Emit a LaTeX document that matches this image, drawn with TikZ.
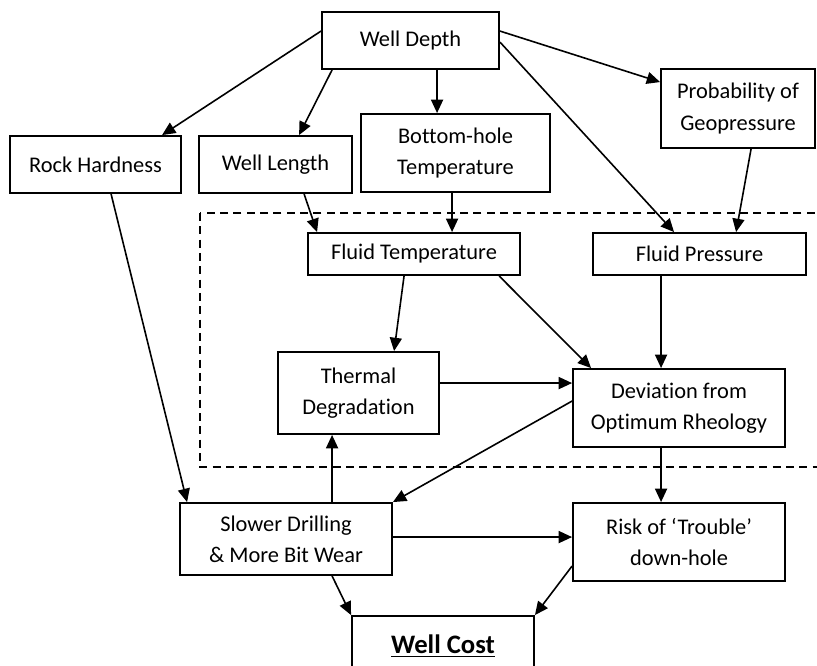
\documentclass[tikz,border=0pt]{standalone}
\usepackage{fontspec}
\setmainfont[Ligatures=NoCommon]{Carlito}
\usetikzlibrary{arrows.meta,calc}

\begin{document}
\begin{tikzpicture}[
            x=0.75pt, y=-0.75pt,
            box/.style={draw, line width=1.4pt, align=center, inner sep=0pt,
                font=\fontsize{16.8}{23.5}\selectfont},
            arr/.style={line width=1.2pt, -{Triangle[length=10pt,width=9pt]}},
            frame/.style={line width=1.3pt, dash pattern=on 6pt off 4pt},
        ]
        \useasboundingbox (0,0) rectangle (817,666);
        \clip (0,0) rectangle (817,666);

        % dashed region round the fluid properties
        \draw[frame] (200,213) rectangle (840,467);

        \node[box, minimum width=132.75pt, minimum height=42.75pt] (depth) at (410.5,40.5) {Well Depth};
        \node[box, minimum width=128.25pt, minimum height=42.75pt] (rock) at (95.5,164.5) {Rock Hardness};
        \node[box, minimum width=114.75pt, minimum height=42.75pt] (length) at (275.5,164.5) {Well Length};
        \node[box, minimum width=141.75pt, minimum height=58.5pt] (bottom) at (455.5,153) {Bottom-hole\\Temperature};
        \node[box, minimum width=115.5pt, minimum height=59.25pt] (prob) at (738,108.5) {Probability of\\Geopressure};
        \node[box, minimum width=159pt, minimum height=31.5pt] (ft) at (414,254) {Fluid Temperature};
        \node[box, minimum width=159.75pt, minimum height=31.5pt] (fp) at (699.5,254) {Fluid Pressure};
        \node[box, minimum width=120.75pt, minimum height=61.5pt] (thermal) at (358.5,393) {Thermal\\Degradation};
        \node[box, minimum width=159pt, minimum height=58.5pt] (dev) at (679,408) {Deviation from\\Optimum Rheology};
        \node[box, minimum width=159pt, minimum height=54pt] (slower) at (286,539) {Slower Drilling\\\& More Bit Wear};
        \node[box, minimum width=159pt, minimum height=58.5pt] (risk) at (679,542) {Risk of `Trouble'\\down-hole};
        \node[box, minimum width=136.5pt, minimum height=45pt,
            font=\fontsize{20}{24}\selectfont\bfseries] (cost) at (443,646) {\underline{Well Cost}};

        % from well depth
        \draw[arr] ($(depth.north west)+(0,20)$) -- ($(rock.north west)+(153,0)$);
        \draw[arr] ($(depth.south west)+(11,0)$) -- ($(length.north west)+(101,0)$);
        \draw[arr] ($(depth.south west)+(116,0)$) coordinate (a) -- (a |- bottom.north);
        \draw[arr] ($(depth.north east)+(0,20)$) -- ($(prob.north west)+(0,14)$);
        \draw[arr] ($(depth.north east)+(0,31)$) -- ($(fp.north west)+(82,0)$);

        \draw[arr] ($(prob.south west)+(91,0)$) -- ($(fp.north west)+(144,0)$);
        \draw[arr] ($(length.south west)+(106,0)$) -- ($(ft.north west)+(10,0)$);
        \draw[arr] ($(bottom.south west)+(92,0)$) coordinate (b) -- (b |- ft.north);
        \draw[arr] ($(rock.south west)+(102,0)$) -- ($(slower.north west)+(8,0)$);

        % inside the dashed region
        \draw[arr] ($(ft.south west)+(97,0)$) -- ($(thermal.north west)+(117,0)$);
        \draw[arr] ($(ft.south west)+(192,0)$) -- ($(dev.north west)+(19,0)$);
        \draw[arr] ($(fp.south west)+(69,0)$) coordinate (c) -- (c |- dev.north);
        \draw[arr] ($(thermal.north east)+(0,32)$) coordinate (d) -- (d -| dev.west);

        % lower part
        \draw[arr] ($(dev.north west)+(0,33)$) -- (slower.north east);
        \draw[arr] ($(slower.north west)+(153,0)$) coordinate (e) -- (e |- thermal.south);
        \draw[arr] ($(dev.south west)+(89,0)$) coordinate (f) -- (f |- risk.north);
        \draw[arr] ($(slower.north east)+(0,35)$) coordinate (g) -- (g -| risk.west);
        \draw[arr] ($(slower.south west)+(153,0)$) -- (cost.north west);
        \draw[arr] ($(risk.north west)+(0,64)$) -- (cost.north east);
    \end{tikzpicture}
\end{document}
